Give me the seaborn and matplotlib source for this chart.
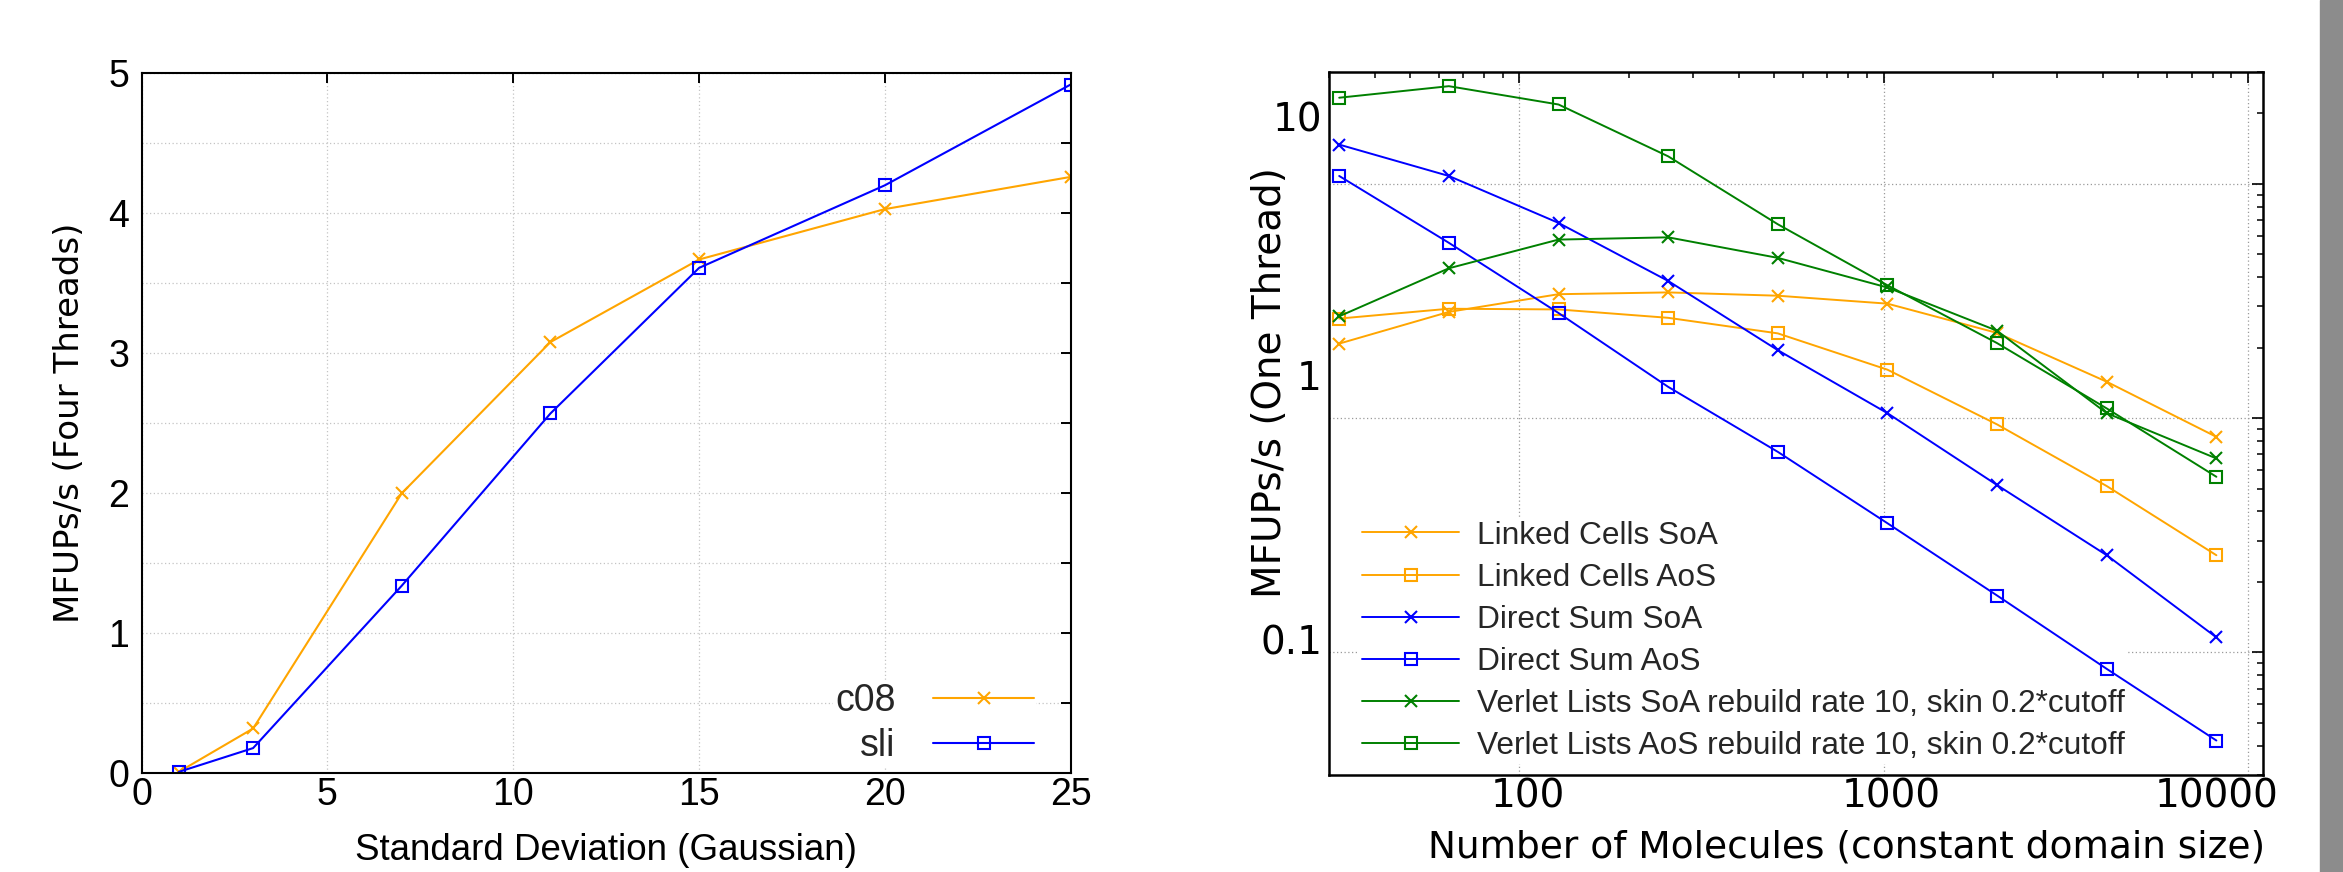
import matplotlib
matplotlib.use("Agg")
import matplotlib.pyplot as plt
import matplotlib.ticker as mticker
import matplotlib.transforms as mtransforms
from matplotlib.patches import Rectangle
import numpy as np
import seaborn as sns

# left panel: four threads, gaussian distribution
std_dev = [1, 3, 7, 11, 15, 20, 25]
c08 = [0.01, 0.32, 2.0, 3.08, 3.67, 4.03, 4.26]
sli = [0.01, 0.18, 1.34, 2.57, 3.61, 4.20, 4.92]

# right panel: one thread, constant domain size
molecules = [32, 64, 128, 256, 512, 1024, 2048, 4096, 8192]
lc_soa = [2.08, 2.84, 3.38, 3.44, 3.33, 3.08, 2.31, 1.43, 0.832]
lc_aos = [2.66, 2.93, 2.91, 2.68, 2.30, 1.61, 0.940, 0.513, 0.260]
ds_soa = [14.7, 10.8, 6.81, 3.85, 1.95, 1.05, 0.518, 0.260, 0.116]
ds_aos = [10.8, 5.60, 2.81, 1.36, 0.718, 0.356, 0.175, 0.0851, 0.0421]
vl_soa = [2.72, 4.36, 5.78, 5.91, 4.83, 3.61, 2.36, 1.05, 0.673]
vl_aos = [23.3, 26.1, 21.8, 13.1, 6.72, 3.69, 2.09, 1.10, 0.562]

right_series = [
    ("Linked Cells SoA", lc_soa, "orange", "x"),
    ("Linked Cells AoS", lc_aos, "orange", "s"),
    ("Direct Sum SoA", ds_soa, "blue", "x"),
    ("Direct Sum AoS", ds_aos, "blue", "s"),
    ("Verlet Lists SoA rebuild rate 10, skin 0.2*cutoff", vl_soa, "green", "x"),
    ("Verlet Lists AoS rebuild rate 10, skin 0.2*cutoff", vl_aos, "green", "s"),
]

x_ticks_r = [100, 1000, 10000]
x_labels_r = ["100", "1000", "10000"]
y_ticks_r = [0.1, 1, 10]
y_labels_r = ["0.1", "1", "10"]

sns.set_theme(style="white")
plt.rcParams["font.family"] = ["DejaVu Sans"]
ARIAL = ["Liberation Sans", "DejaVu Sans"]

fig = plt.figure(figsize=(23.43, 8.72), dpi=100, facecolor="white")
axL = fig.add_axes([0.06044, 0.11319, 0.39654, 0.80275])
axR = fig.add_axes([0.56722, 0.11124, 0.39864, 0.80619])


def draw(ax, x, y, label, color, marker, ms, lw):
    sns.lineplot(x=x, y=y, ax=ax, color=color, marker=marker, markersize=ms,
                 markeredgecolor=color, markerfacecolor="none", markeredgewidth=1.5,
                 linewidth=lw, label=label, errorbar=None, legend=False, sort=False)


# ---- left panel ----
draw(axL, std_dev, c08, "c08", "orange", "x", 9, 1.5)
draw(axL, std_dev, sli, "sli", "blue", "s", 8, 1.5)
axL.set_xlim(0, 25)
axL.set_ylim(0, 5)
axL.xaxis.set_major_locator(mticker.MultipleLocator(5))
axL.yaxis.set_major_locator(mticker.MultipleLocator(0.5))
axL.yaxis.set_major_formatter(mticker.FuncFormatter(
    lambda v, p: f"{v:.0f}" if abs(v - round(v)) < 1e-6 else ""))
axL.grid(True, which="major", linestyle=(0, (1, 2)), color="#c4c4c4", linewidth=0.9)
axL.tick_params(which="both", direction="in", top=True, right=True,
                length=7, width=1.4, color="black", labelsize=27, colors="black")
axL.tick_params(axis="y", pad=9)
axL.tick_params(axis="x", pad=3)
for lbl in axL.get_xticklabels() + axL.get_yticklabels():
    lbl.set_fontfamily(ARIAL)
for s in axL.spines.values():
    s.set_linewidth(1.5)
    s.set_color("black")
axL.set_xlabel("Standard Deviation (Gaussian)", fontsize=26.5, family=ARIAL, color="black")
axL.xaxis.set_label_coords(0.5, -0.085)
axL.set_ylabel("MFUPs/s (Four Threads)", fontsize=24.5, color="black")
axL.yaxis.set_label_coords(-0.06, 0.5)
legL = axL.legend(loc="lower right", bbox_to_anchor=(0.963, 0.01), borderaxespad=0,
                  borderpad=0.05, markerfirst=False, handlelength=2.7, handletextpad=1.0,
                  labelspacing=0.25, frameon=True, fancybox=False,
                  prop={"family": ARIAL, "size": 27})
legL.get_frame().set_facecolor("white")
legL.get_frame().set_edgecolor("none")
legL.get_frame().set_alpha(1)

# ---- right panel ----
for name, vals, color, marker in right_series:
    draw(axR, molecules, vals, name, color, marker, 8.5 if marker == "x" else 8, 1.4)
axR.set_xscale("log")
axR.set_yscale("log")
axR.set_xlim(30, 11000)
axR.set_ylim(0.03, 30)
axR.xaxis.set_major_locator(mticker.FixedLocator(x_ticks_r))
axR.xaxis.set_major_formatter(mticker.FixedFormatter(x_labels_r))
axR.yaxis.set_major_locator(mticker.FixedLocator(y_ticks_r))
axR.yaxis.set_major_formatter(mticker.FixedFormatter(y_labels_r))
for axis in (axR.xaxis, axR.yaxis):
    axis.set_minor_locator(mticker.LogLocator(base=10, subs=np.arange(2, 10), numticks=50))
    axis.set_minor_formatter(mticker.NullFormatter())
axR.grid(True, which="major", linestyle=(0, (1, 2)), color="#9a9a9a", linewidth=0.9)
axR.grid(False, which="minor")
axR.tick_params(which="major", direction="in", top=True, right=True,
                length=8, width=1.2, labelsize=28, colors="black")
axR.tick_params(which="minor", direction="in", top=True, right=True,
                length=4.5, width=1.1, colors="black")
axR.tick_params(axis="y", which="major", pad=5)
axR.tick_params(axis="x", which="major", pad=2)
for s in axR.spines.values():
    s.set_linewidth(1.8)
    s.set_color("black")
axR.set_xlabel("Number of Molecules (constant domain size)", fontsize=27, color="black")
axR.xaxis.set_label_coords(0.5546, -0.0775)
axR.set_ylabel("MFUPs/s (One Thread)", fontsize=28, color="black")
axR.yaxis.set_label_coords(-0.043, 0.5576)
legR = axR.legend(loc="lower left", bbox_to_anchor=(0.032, 0.016), borderaxespad=0,
                  borderpad=0.1, handlelength=3.07, handletextpad=0.57,
                  labelspacing=0.38, frameon=True, fancybox=False,
                  prop={"family": ARIAL, "size": 22.75})
legR.get_frame().set_facecolor("white")
legR.get_frame().set_edgecolor("none")
legR.get_frame().set_alpha(1)
# legend box hides the grid but the data lines run over it
legR.set_zorder(1.5)

# tick labels in the reference sit off their ticks; mimic the offsets (pixels)
y_label_shift = {0.1: 12.5, 1: 43, 10: 67}
x_label_shift = {100: 8, 1000: 8, 10000: -31}
for tick, v in zip(axR.yaxis.get_major_ticks(), y_ticks_r):
    off = mtransforms.ScaledTranslation(0, y_label_shift[v] / 100, fig.dpi_scale_trans)
    tick.label1.set_transform(tick.label1.get_transform() + off)
for tick, v in zip(axR.xaxis.get_major_ticks(), x_ticks_r):
    off = mtransforms.ScaledTranslation(x_label_shift[v] / 100, 0, fig.dpi_scale_trans)
    tick.label1.set_transform(tick.label1.get_transform() + off)

# grey slide edge on the right
fig.add_artist(Rectangle((2320 / 2343, 0), 23 / 2343, 1, transform=fig.transFigure,
                         color="#8c8c8c", zorder=0))

fig.savefig("out.png", dpi=100, facecolor="white")
plt.close(fig)
